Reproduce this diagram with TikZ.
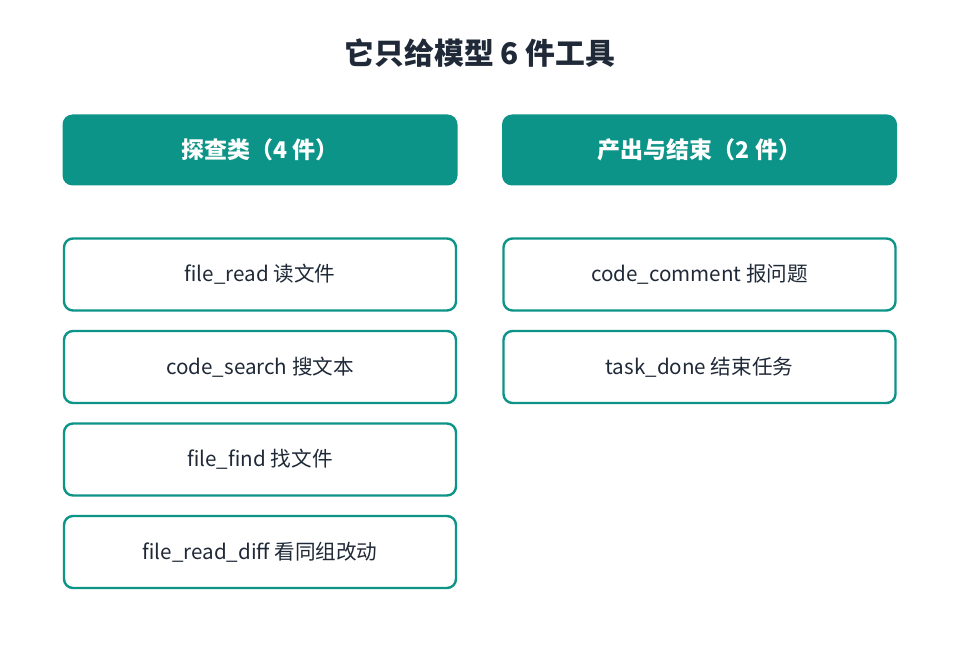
\documentclass[tikz,border=0pt]{standalone}
\usepackage{fontspec}
\setmainfont{Noto Sans CJK SC}
\definecolor{teal6}{HTML}{0D9488}
\definecolor{ink}{HTML}{1F2937}
\begin{document}
\begin{tikzpicture}[x=1pt,y=-1pt,
  hdr/.style={fill=teal6,draw=none,rounded corners=10pt,minimum width=395pt,minimum height=71pt,
    text=white,font=\fontsize{23}{27}\selectfont\bfseries,inner sep=0pt},
  item/.style={draw=teal6,line width=2.4pt,fill=white,rounded corners=9pt,minimum width=392pt,minimum height=72pt,
    text=ink,font=\fontsize{20.6}{24}\selectfont,inner sep=0pt}]
\useasboundingbox[fill=white] (0,0) rectangle (959,671);
\node[text=ink,font=\fontsize{29.8}{34}\selectfont\bfseries] (title) at (480,53) {它只给模型 6 件工具};
\node[hdr] (h1) at (260,150) {探查类（4 件）};
\node[hdr] (h2) at (699.5,150) {产出与结束（2 件）};
\node[item] (a1) at (260,274.5) {file\_read 读文件};
\node[item] (a2) at (260,367) {code\_search 搜文本};
\node[item] (a3) at (260,459.5) {file\_find 找文件};
\node[item] (a4) at (260,552) {file\_read\_diff 看同组改动};
\node[item] (b1) at (699.5,274.5) {code\_comment 报问题};
\node[item] (b2) at (699.5,367) {task\_done 结束任务};
\end{tikzpicture}
\end{document}
